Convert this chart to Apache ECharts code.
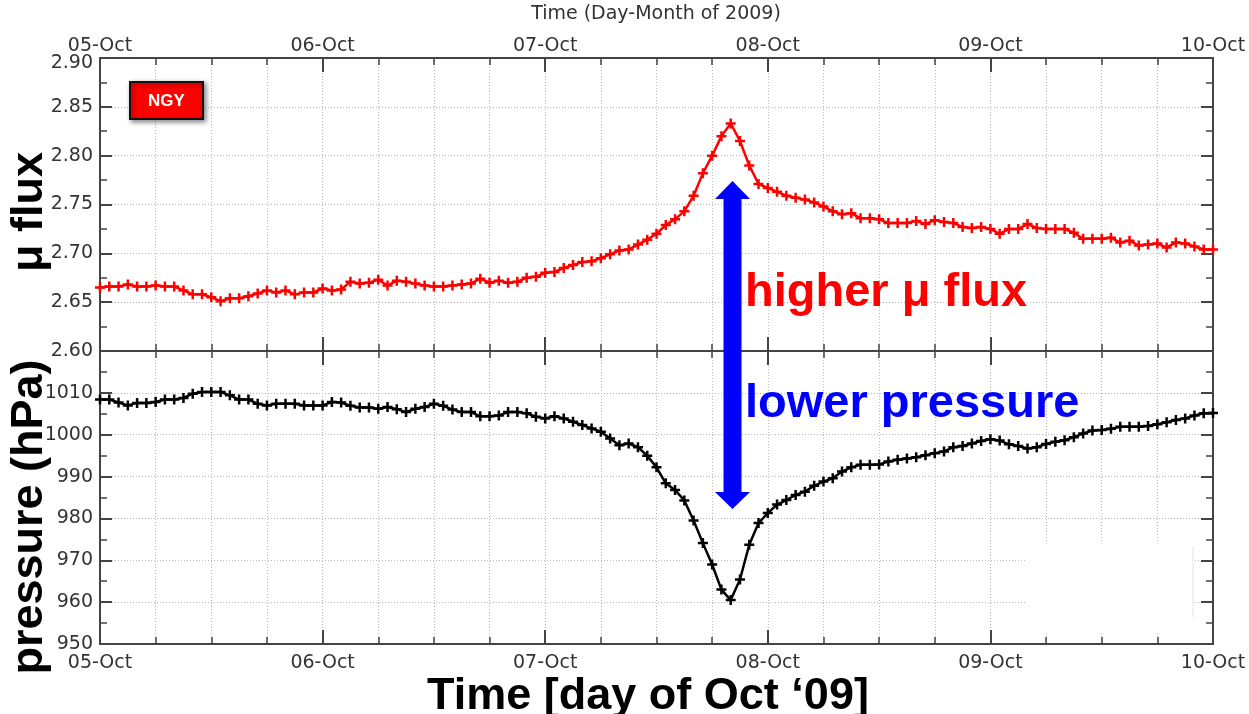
<!DOCTYPE html>
<html><head><meta charset="utf-8">
<script src="https://cdn.jsdelivr.net/npm/echarts@6/dist/echarts.min.js"></script>
<style>html,body{margin:0;padding:0;background:#fff}#c{width:1249px;height:714px}</style>
</head><body><div id="c"></div>
<script>
const dayLabels = ['05-Oct','06-Oct','07-Oct','08-Oct','09-Oct','10-Oct'];
// hourly values, 05-Oct 00h .. 10-Oct 00h
const muFlux = [
 2.665,2.666,2.666,2.668,2.666,2.666,2.667,2.666,2.666,2.662,2.658,2.658,2.655,2.651,2.654,2.654,
 2.656,2.659,2.662,2.660,2.662,2.658,2.660,2.660,2.664,2.662,2.663,2.671,2.669,2.670,2.673,2.667,
 2.672,2.671,2.669,2.667,2.666,2.666,2.667,2.668,2.669,2.674,2.670,2.672,2.670,2.671,
 2.675,2.676,2.680,2.681,2.685,2.688,2.691,2.692,2.695,2.699,2.703,2.704,2.709,2.714,2.720,2.729,
 2.735,2.743,2.759,2.782,2.800,2.820,2.833,2.815,2.790,2.771,2.767,2.763,2.759,2.757,2.755,2.752,
 2.748,2.743,
 2.740,2.741,2.736,2.736,2.735,2.731,2.731,2.731,2.733,2.730,2.734,2.732,2.731,2.727,2.726,2.727,
 2.725,2.720,2.725,2.725,2.730,2.726,2.725,2.725,2.725,2.721,2.715,2.715,2.715,2.716,2.711,2.713,
 2.708,2.709,2.710,2.706,2.711,2.710,2.707,2.704,2.704
];
const pressure = [
 1008.4,1008.4,1007.7,1007.0,1007.6,1007.6,1007.8,1008.4,1008.4,1008.8,1009.8,1010.2,1010.2,1010.2,
 1009.4,1008.4,1008.4,1007.4,1007.0,1007.4,1007.4,1007.4,1007.0,1007.0,1007.0,1007.8,1007.7,1006.9,
 1006.5,1006.5,1006.2,1006.6,1006.1,1005.4,1006.2,1006.6,1007.4,1006.9,1006.0,1005.4,1005.4,1004.4,
 1004.4,1004.6,1005.4,1005.4,
 1005.1,1004.3,1003.9,1004.4,1003.9,1003.1,1002.3,1001.5,1000.7,999.1,997.5,997.9,997.0,995.0,
 992.2,988.4,986.8,984.3,979.5,974.1,969.0,963.0,960.5,965.4,973.7,978.9,981.3,983.3,984.4,985.6,
 986.4,987.8,988.8,989.6,
 991.2,992.2,992.8,992.8,992.9,993.6,994.0,994.3,994.6,995.1,995.6,996.0,997.0,997.3,997.9,998.5,
 998.9,998.6,997.7,997.3,996.7,997.0,997.8,998.3,998.7,999.4,1000.3,1001.0,1001.1,1001.4,1001.9,
 1001.9,1001.9,1002.1,1002.5,1003.0,1003.5,1003.9,1004.6,1005.1,1005.2
];
const muTicks = {min: 2.60, max: 2.90, step: 0.05};
const pTicks = {min: 950, max: 1020, step: 10};

const AX = '#444';
const GRIDC = '#b8b8b8';
const labelFont = {fontFamily: 'DejaVu Sans', fontSize: 19, color: '#333'};

function xAx(gridIndex, position, showLabels, gridlines, margin) {
  return {
    type: 'value', gridIndex, position, min: 0, max: 120, interval: 24,
    axisLine: {show: true, onZero: false, lineStyle: {color: AX, width: 2}},
    axisTick: {show: true, inside: true, length: 14, lineStyle: {color: AX, width: 2}},
    minorTick: {show: true, splitNumber: 4, length: 7, lineStyle: {color: AX, width: 1.5}},
    axisLabel: Object.assign({show: showLabels, margin: margin,
      formatter: v => dayLabels[Math.round(v / 24)]}, labelFont),
    splitLine: {show: gridlines, lineStyle: {color: GRIDC, type: [1, 2], width: 1}},
    minorSplitLine: {show: gridlines, lineStyle: {color: GRIDC, type: [1, 2], width: 1}}
  };
}
function yAx(gridIndex, position, t, showLabels, gridlines, fmt) {
  return {
    type: 'value', gridIndex, position, min: t.min, max: t.max, interval: t.step,
    axisLine: {show: true, onZero: false, lineStyle: {color: AX, width: 2}},
    axisTick: {show: true, inside: true, length: 12, lineStyle: {color: AX, width: 2}},
    minorTick: {show: true, splitNumber: 2, length: 7, lineStyle: {color: AX, width: 1.5}},
    axisLabel: Object.assign({show: showLabels, margin: 7, formatter: fmt,
      rich: {low: Object.assign({padding: [10, 0, 0, 0]}, labelFont)}}, labelFont),
    splitLine: {show: gridlines, lineStyle: {color: GRIDC, type: [1, 2], width: 1}}
  };
}
const plus = 'path://M3.75,0L6.25,0L6.25,3.75L10,3.75L10,6.25L6.25,6.25L6.25,10L3.75,10L3.75,6.25L0,6.25L0,3.75L3.75,3.75Z';

const chart = echarts.init(document.getElementById('c'), null, {renderer: 'canvas'});
chart.setOption({
  animation: false,
  backgroundColor: '#fff',
  grid: [
    {left: 100, top: 58, width: 1113, height: 293},
    {left: 100, top: 351, width: 1113, height: 293}
  ],
  xAxis: [
    xAx(0, 'top', true, true, 2),
    xAx(0, 'bottom', false, false, 8),
    xAx(1, 'top', false, false, 8),
    xAx(1, 'bottom', true, true, 10)
  ],
  yAxis: [
    yAx(0, 'left', muTicks, true, true,
        v => (v >= muTicks.max - 1e-9 ? '{low|' + v.toFixed(2) + '}' : v.toFixed(2))),
    yAx(0, 'right', muTicks, false, false),
    yAx(1, 'left', pTicks, true, true, v => (v >= pTicks.max ? '' : String(Math.round(v)))),
    yAx(1, 'right', pTicks, false, false)
  ],
  series: [
    {type: 'line', xAxisIndex: 0, yAxisIndex: 0, silent: true,
     data: muFlux.map((v, i) => [i, v]),
     symbol: plus, symbolSize: 10,
     lineStyle: {color: '#ff0000', width: 2.5},
     itemStyle: {color: '#ff0000', borderWidth: 0}},
    {type: 'line', xAxisIndex: 3, yAxisIndex: 2, silent: true,
     data: pressure.map((v, i) => [i, v]),
     symbol: plus, symbolSize: 10,
     lineStyle: {color: '#000000', width: 2.5},
     itemStyle: {color: '#000000', borderWidth: 0}}
  ],
  graphic: [
    {type: 'rect', z: 5, shape: {x: 1027, y: 543, width: 166, height: 88}, style: {fill: '#fff'}},
    {type: 'line', z: 5, shape: {x1: 1193, y1: 547, x2: 1193, y2: 617}, style: {stroke: '#e2e2e2', lineWidth: 1}},
    {type: 'text', z: 10, x: 656, y: 14,
     style: {text: 'Time (Day-Month of 2009)', font: '19px "DejaVu Sans"', fill: '#333',
             align: 'center', verticalAlign: 'middle', textAlign: 'center', textVerticalAlign: 'middle'}},
    {type: 'rect', z: 10, shape: {x: 130, y: 82, width: 73, height: 37},
     style: {fill: '#ff0000', stroke: '#111', lineWidth: 2, shadowBlur: 5,
             shadowColor: 'rgba(0,0,0,0.45)', shadowOffsetX: 2, shadowOffsetY: 2}},
    {type: 'text', z: 11, x: 166.5, y: 101,
     style: {text: 'NGY', font: 'bold 17px "Liberation Sans"', fill: '#fff',
             align: 'center', verticalAlign: 'middle', textAlign: 'center', textVerticalAlign: 'middle'}},
    {type: 'text', z: 10, x: 30, y: 212, rotation: Math.PI / 2,
     style: {text: 'μ flux', font: 'bold 45px "Liberation Sans"', fill: '#000',
             align: 'center', verticalAlign: 'middle', textAlign: 'center', textVerticalAlign: 'middle'}},
    {type: 'text', z: 10, x: 30, y: 517, rotation: Math.PI / 2,
     style: {text: 'pressure (hPa)', font: 'bold 45px "Liberation Sans"', fill: '#000',
             align: 'center', verticalAlign: 'middle', textAlign: 'center', textVerticalAlign: 'middle'}},
    {type: 'text', z: 10, x: 648, y: 697,
     style: {text: 'Time [day of Oct \u201809]', font: 'bold 45px "Liberation Sans"', fill: '#000',
             align: 'center', verticalAlign: 'middle', textAlign: 'center', textVerticalAlign: 'middle'}},
    {type: 'text', z: 10, x: 745, y: 293,
     style: {text: 'higher μ flux', font: 'bold 47px "Liberation Sans"', fill: '#ff0000',
             align: 'left', verticalAlign: 'middle', textAlign: 'left', textVerticalAlign: 'middle'}},
    {type: 'text', z: 10, x: 745, y: 404,
     style: {text: 'lower pressure', font: 'bold 47px "Liberation Sans"', fill: '#0000ff',
             align: 'left', verticalAlign: 'middle', textAlign: 'left', textVerticalAlign: 'middle'}},
    {type: 'polygon', z: 10,
     shape: {points: [[732.5,181],[750,199],[741.5,199],[741.5,492],[750,492],[732.5,509],
                      [715,492],[723.5,492],[723.5,199],[715,199]]},
     style: {fill: '#0000ff'}}
  ]
});
</script></body></html>
